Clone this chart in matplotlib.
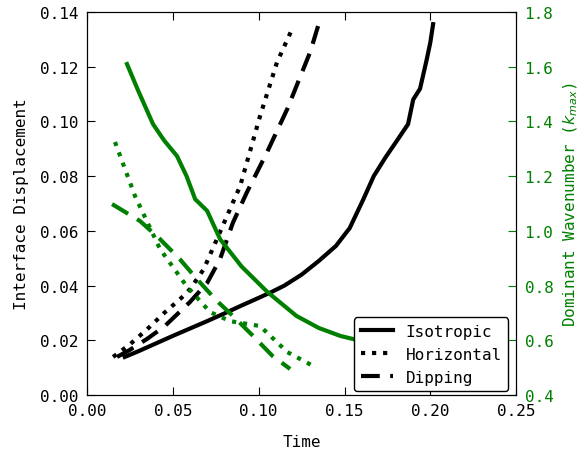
import numpy as np
import matplotlib
matplotlib.use('Agg')
import matplotlib.pyplot as plt

plt.rcParams['font.family'] = 'DejaVu Sans Mono'
plt.rcParams['font.size'] = 11.5
plt.rcParams['mathtext.fontset'] = 'dejavusans'

# interface displacement (left axis)
iso_t = [0.022, 0.030, 0.040, 0.050, 0.060, 0.070, 0.080, 0.090, 0.100, 0.107, 0.115, 0.125, 0.135, 0.145, 0.153, 0.161, 0.167, 0.174, 0.180, 0.187, 0.190, 0.194, 0.198, 0.200, 0.2016]
iso_d = [0.0139, 0.0160, 0.0188, 0.0216, 0.0243, 0.0270, 0.0298, 0.0327, 0.0355, 0.0375, 0.0400, 0.0440, 0.0490, 0.0545, 0.0610, 0.0716, 0.0800, 0.0870, 0.0925, 0.0990, 0.1080, 0.1120, 0.1230, 0.1290, 0.1356]

hor_t = [0.0152, 0.025, 0.035, 0.045, 0.055, 0.060, 0.068, 0.0775, 0.0892, 0.1008, 0.1107, 0.1189]
hor_d = [0.0139, 0.0185, 0.0240, 0.0300, 0.0355, 0.0387, 0.0460, 0.0596, 0.0764, 0.1020, 0.1217, 0.1330]

dip_t = [0.0175, 0.025, 0.035, 0.045, 0.060, 0.070, 0.0775, 0.0850, 0.0932, 0.1049, 0.1166, 0.1300, 0.1346]
dip_d = [0.0139, 0.0165, 0.0205, 0.0250, 0.0340, 0.0410, 0.0497, 0.0630, 0.0742, 0.0888, 0.1045, 0.1254, 0.1349]

# dominant wavenumber (right axis)
iso_kt = [0.0233, 0.030, 0.0385, 0.045, 0.0524, 0.058, 0.063, 0.070, 0.0775, 0.090, 0.105, 0.122, 0.135, 0.1475, 0.156, 0.175]
iso_k = [1.610, 1.510, 1.390, 1.330, 1.274, 1.200, 1.116, 1.073, 0.970, 0.870, 0.777, 0.689, 0.645, 0.616, 0.603, 0.570]

hor_kt = [0.0163, 0.028, 0.0425, 0.058, 0.0717, 0.0833, 0.1008, 0.1166, 0.1317]
hor_k = [1.325, 1.127, 0.934, 0.798, 0.703, 0.670, 0.652, 0.557, 0.506]

dip_kt = [0.0146, 0.0309, 0.0425, 0.054, 0.064, 0.0758, 0.085, 0.0967, 0.108, 0.1183]
dip_k = [1.098, 1.036, 0.970, 0.897, 0.824, 0.743, 0.689, 0.616, 0.543, 0.495]

green = '#008000'
dash = (4.5, 2.5)

fig = plt.figure(figsize=(5.8, 4.52), dpi=100)
ax = fig.add_axes([0.15, 0.124, 0.74, 0.847])
ax2 = ax.twinx()

l1, = ax.plot(iso_t, iso_d, 'k-', lw=3)
l2, = ax.plot(hor_t, hor_d, 'k:', lw=3)
l3, = ax.plot(dip_t, dip_d, 'k--', lw=3, dashes=dash)

ax2.plot(iso_kt, iso_k, '-', color=green, lw=3)
ax2.plot(hor_kt, hor_k, ':', color=green, lw=3)
ax2.plot(dip_kt, dip_k, '--', color=green, lw=3, dashes=dash)

ax.set_xlim(0, 0.25)
ax.set_ylim(0, 0.14)
ax2.set_ylim(0.4, 1.8)
ax.set_xticks(np.arange(0, 0.2501, 0.05))
ax.set_yticks(np.arange(0, 0.1401, 0.02))
ax2.set_yticks(np.arange(0.4, 1.801, 0.2))

ax.set_xlabel('Time', labelpad=11)
ax.set_ylabel('Interface Displacement', labelpad=8)
ax2.set_ylabel('Dominant Wavenumber ($k_{max}$)', color=green, labelpad=6)

ax.tick_params(direction='in', length=6, top=True, right=False, pad=6)
ax2.tick_params(direction='in', length=6, colors=green, pad=6)

ax2.legend([l1, l2, l3], ['Isotropic', 'Horizontal', 'Dipping'], loc='lower right',
           bbox_to_anchor=(0.981, 0.01), borderaxespad=0, framealpha=1,
           edgecolor='black')

fig.savefig('out.png', dpi=100)
